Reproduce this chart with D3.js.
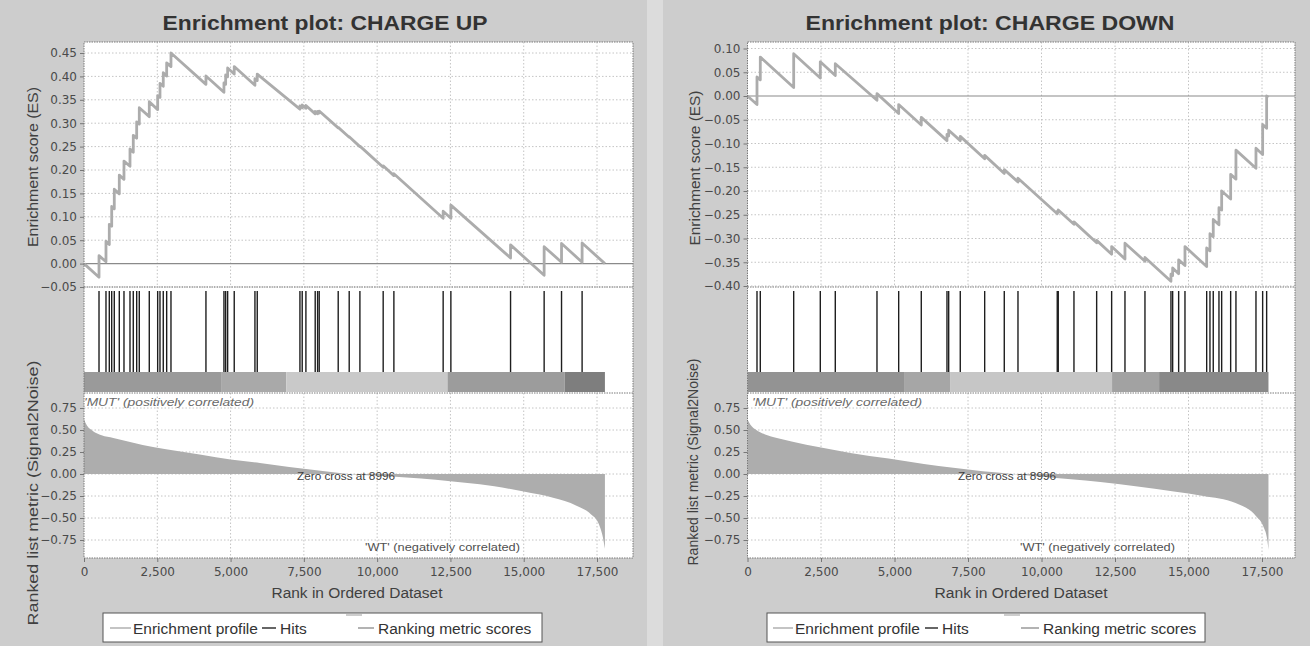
<!DOCTYPE html>
<html><head><meta charset="utf-8">
<script src="https://cdn.jsdelivr.net/npm/d3@7"></script>
<style>
html,body{margin:0;padding:0;background:#cdcdcd;}
svg{display:block;}
</style></head><body>
<svg id="c" width="1310" height="646"></svg>
<script>
// ---------------- DATA ----------------
const titles = ["Enrichment plot: CHARGE UP", "Enrichment plot: CHARGE DOWN"];
const xTicks = [0, 2500, 5000, 7500, 10000, 12500, 15000, 17500];
const esTicksUp = [-0.05, 0.00, 0.05, 0.10, 0.15, 0.20, 0.25, 0.30, 0.35, 0.40, 0.45];
const esTicksDown = [-0.40, -0.35, -0.30, -0.25, -0.20, -0.15, -0.10, -0.05, 0.00, 0.05, 0.10];
const metricTicks = [-0.75, -0.50, -0.25, 0.00, 0.25, 0.50, 0.75];
const datasetSize = [17770, 17720];
const zeroCross = 8996;

const hitsUp = [512, 750, 863, 945, 1033, 1204, 1364, 1569, 1681, 1797, 1886, 2227, 2513, 2592, 2704, 2820, 2967,
  4160, 4774, 4832, 4900, 5125, 5831, 5910, 7366, 7444, 7570, 7887, 7969, 8024, 8672, 9047, 9412,
  10206, 10571, 12252, 12515, 14551, 15697, 16290, 16992];

const esUp = [[0, 0], [512, -0.029], [512, 0.017], [750, 0.004], [750, 0.048], [863, 0.041], [863, 0.084],
  [945, 0.080], [945, 0.122], [1033, 0.117], [1033, 0.159], [1204, 0.149], [1204, 0.189], [1364, 0.180], [1364, 0.219],
  [1569, 0.208], [1569, 0.245], [1681, 0.238], [1681, 0.274], [1797, 0.268], [1797, 0.303], [1886, 0.298], [1886, 0.333],
  [2227, 0.314], [2227, 0.346], [2513, 0.329], [2513, 0.359], [2592, 0.355], [2592, 0.385], [2704, 0.379], [2704, 0.408],
  [2820, 0.401], [2820, 0.429], [2967, 0.421], [2967, 0.450], [4160, 0.383], [4160, 0.401], [4774, 0.366], [4774, 0.386],
  [4832, 0.383], [4832, 0.403], [4900, 0.399], [4900, 0.418], [5125, 0.405], [5125, 0.421], [5831, 0.381], [5831, 0.395],
  [5910, 0.391], [5910, 0.405], [7366, 0.330], [7366, 0.337], [7444, 0.333], [7444, 0.339], [7570, 0.332], [7570, 0.338],
  [7887, 0.320], [7887, 0.325], [7969, 0.320], [7969, 0.325], [8024, 0.322], [8024, 0.326], [8672, 0.290], [8672, 0.291],
  [9047, 0.270], [9047, 0.271], [9412, 0.250], [9412, 0.251], [10206, 0.206], [10206, 0.209], [10571, 0.188], [10571, 0.192],
  [12252, 0.097], [12252, 0.112], [12515, 0.097], [12515, 0.125], [14551, 0.012], [14551, 0.040], [15697, -0.025], [15697, 0.036],
  [16290, 0.003], [16290, 0.043], [16992, 0.003], [16992, 0.044], [17770, 0.0]];

const metricUp = [[0, 0.62], [100, 0.55], [300, 0.49], [600, 0.44], [1000, 0.41], [1500, 0.37], [2000, 0.33], [2800, 0.28],
  [4000, 0.22], [5000, 0.165], [6000, 0.125], [7000, 0.08], [8000, 0.04], [8996, 0], [10000, -0.02], [11000, -0.04],
  [12000, -0.065], [13000, -0.10], [14000, -0.14], [15000, -0.20], [16000, -0.27], [16800, -0.36], [17300, -0.46],
  [17550, -0.56], [17700, -0.72], [17770, -0.85]];

const hitsDown = [323, 435, 1571, 2476, 2986, 4404, 5142, 5911, 6785, 6843, 7237, 8067, 8734, 9200, 10536, 10570,
  11104, 11876, 12386, 12839, 13519, 14403, 14461, 14665, 14880, 15618, 15730, 15842, 16036, 16128, 16434, 16614,
  17295, 17522, 17658];

const esDown = [[0, 0], [323, -0.018], [323, 0.040], [435, 0.034], [435, 0.082], [1571, 0.018], [1571, 0.089],
  [2476, 0.038], [2476, 0.072], [2986, 0.043], [2986, 0.068], [4404, -0.009], [4404, 0.005], [5142, -0.037], [5142, -0.018],
  [5911, -0.061], [5911, -0.045], [6785, -0.094], [6785, -0.081], [6843, -0.084], [6843, -0.072], [7237, -0.094], [7237, -0.085],
  [8067, -0.132], [8067, -0.125], [8734, -0.163], [8734, -0.155], [9200, -0.181], [9200, -0.173], [10536, -0.248], [10536, -0.243],
  [10570, -0.245], [10570, -0.240], [11104, -0.270], [11104, -0.265], [11876, -0.309], [11876, -0.304], [12386, -0.333], [12386, -0.317],
  [12839, -0.343], [12839, -0.310], [13519, -0.348], [13519, -0.340], [14403, -0.390], [14403, -0.375], [14461, -0.378], [14461, -0.362],
  [14665, -0.374], [14665, -0.345], [14880, -0.357], [14880, -0.317], [15618, -0.359], [15618, -0.320], [15730, -0.326], [15730, -0.290],
  [15842, -0.296], [15842, -0.260], [16036, -0.271], [16036, -0.235], [16128, -0.240], [16128, -0.200], [16434, -0.217], [16434, -0.165],
  [16614, -0.175], [16614, -0.114], [17295, -0.152], [17295, -0.110], [17522, -0.123], [17522, -0.060], [17658, -0.068], [17658, 0.000],
  [17720, -0.003]];

const metricDown = [[0, 0.62], [100, 0.56], [300, 0.50], [600, 0.45], [1000, 0.41], [1500, 0.37], [2500, 0.30], [3500, 0.24],
  [4800, 0.175], [6000, 0.115], [7000, 0.07], [8000, 0.03], [8996, 0], [10000, -0.03], [11000, -0.06], [12000, -0.09],
  [13200, -0.14], [14500, -0.20], [15500, -0.25], [16600, -0.33], [17300, -0.48], [17550, -0.60], [17680, -0.75], [17720, -0.86]];

const colorBreaksUp = [0, 4700, 6900, 12400, 16400, 17770];
const colorBreaksDown = [0, 5350, 6890, 12400, 14000, 17720];

const legendLabels = ["Enrichment profile", "Hits", "Ranking metric scores"];
const posLabel = "'MUT' (positively correlated)";
const negLabel = "'WT' (negatively correlated)";

// ---------------- STYLE / LAYOUT ----------------
const shadesUp = ["#9a9a9a", "#a9a9a9", "#c9c9c9", "#9c9c9c", "#7e7e7e"];
const shadesDown = ["#939393", "#a6a6a6", "#c6c6c6", "#a2a2a2", "#898989"];
const FONT = "'Liberation Sans', Arial, sans-serif";
const TFONT = "'DejaVu Sans', Verdana, sans-serif";

const svg = d3.select("#c");
svg.append("rect").attr("width", 1310).attr("height", 646).attr("fill", "#cdcdcd");
svg.append("rect").attr("x", 647).attr("width", 16).attr("height", 646).attr("fill", "#dcdcdc");

const charts = [
  { title: titles[0], titleX: 325, titleLen: 325, x0: 84, x1: 633, x17500: 597,
    esTicks: esTicksUp, esBot: 287, esTop: 53, es: esUp, hits: hitsUp, metric: metricUp, N: datasetSize[0],
    breaks: colorBreaksUp, shades: shadesUp,
    esLabelX: 33, esLabelY: 167, esLabelLen: 160, rlLabelX: 33, rlLabelY: 493, rlLabelLen: 265,
    xTitleX: 357, xTitleLen: 171, zeroX: 297, posX: 84, negX: 365,
    leg: { x0: 103, x1: 542, s1: [110, 131], t1: 133, s2: [262, 276], t2: 280, s3: [346, 362], s4: [358, 374], t3: 378 } },
  { title: titles[1], titleX: 990, titleLen: 369, x0: 747.5, x1: 1295, x17500: 1262,
    esTicks: esTicksDown, esBot: 286, esTop: 48.5, es: esDown, hits: hitsDown, metric: metricDown, N: datasetSize[1],
    breaks: colorBreaksDown, shades: shadesDown,
    esLabelX: 695, esLabelY: 168, esLabelLen: 155, rlLabelX: 693, rlLabelY: 462, rlLabelLen: 207,
    xTitleX: 1021, xTitleLen: 173, zeroX: 958, posX: 752, negX: 1020,
    leg: { x0: 767, x1: 1205, s1: [773, 793], t1: 795, s2: [925, 938], t2: 942, s3: [1004, 1020], s4: [1021, 1039], t3: 1043 } }
];

const TOP = 42, ES_BOTTOM = 287, HIT_TOP = 291, HIT_BOTTOM = 372, BAR_BOTTOM = 392, M_TOP = 393, M_BOTTOM = 558;

charts.forEach(c => {
  const g = svg.append("g");
  const x = d3.scaleLinear().domain([0, 17500]).range([c.x0, c.x17500]);
  const yES = d3.scaleLinear().domain([c.esTicks[0], c.esTicks[c.esTicks.length - 1]]).range([c.esBot, c.esTop]);
  const yM = d3.scaleLinear().domain([-0.75, 0.75]).range([540, 408]);

  // title
  g.append("text").attr("x", c.titleX).attr("y", 29.5).attr("text-anchor", "middle")
    .attr("font-family", FONT).attr("font-weight", "bold").attr("font-size", 21).attr("fill", "#333")
    .attr("textLength", c.titleLen).attr("lengthAdjust", "spacingAndGlyphs").text(c.title);

  // white plot background
  g.append("rect").attr("x", c.x0).attr("y", TOP).attr("width", c.x1 - c.x0).attr("height", M_BOTTOM - TOP).attr("fill", "#fff");

  const grid = g.append("g").attr("stroke", "#c4c4c4").attr("stroke-width", 1).attr("stroke-dasharray", "1.5,2");
  xTicks.filter(t => t > 0).forEach(t => {
    grid.append("line").attr("x1", x(t)).attr("x2", x(t)).attr("y1", TOP).attr("y2", ES_BOTTOM);
    grid.append("line").attr("x1", x(t)).attr("x2", x(t)).attr("y1", M_TOP).attr("y2", M_BOTTOM);
  });
  c.esTicks.forEach(t => {
    if (Math.abs(t) < 1e-9) return;
    grid.append("line").attr("x1", c.x0).attr("x2", c.x1).attr("y1", yES(t)).attr("y2", yES(t));
  });
  metricTicks.forEach(t => {
    grid.append("line").attr("x1", c.x0).attr("x2", c.x1).attr("y1", yM(t)).attr("y2", yM(t));
  });

  // ES zero line
  g.append("line").attr("x1", c.x0).attr("x2", c.x1).attr("y1", yES(0)).attr("y2", yES(0))
    .attr("stroke", "#8a8a8a").attr("stroke-width", 1.2);

  // metric area
  const area = d3.area().x(d => x(d[0])).y0(yM(0)).y1(d => yM(d[1])).curve(d3.curveMonotoneX);
  g.append("path").datum(c.metric).attr("d", area).attr("fill", "#adadad");

  // ES line
  const line = d3.line().x(d => x(d[0])).y(d => yES(d[1]));
  g.append("path").datum(c.es).attr("d", line).attr("fill", "none")
    .attr("stroke", "#acacac").attr("stroke-width", 2.8).attr("stroke-linejoin", "round");

  // hits
  g.append("g").selectAll("line").data(c.hits).join("line")
    .attr("x1", d => x(d)).attr("x2", d => x(d)).attr("y1", HIT_TOP).attr("y2", HIT_BOTTOM)
    .attr("stroke", "#1e1e1e").attr("stroke-width", 1.4);

  // color bar
  const segs = d3.pairs(c.breaks);
  g.append("g").selectAll("rect").data(segs).join("rect")
    .attr("x", d => x(d[0])).attr("width", d => x(d[1]) - x(d[0]))
    .attr("y", HIT_BOTTOM).attr("height", BAR_BOTTOM - HIT_BOTTOM)
    .attr("fill", (d, i) => c.shades[i]);

  // panel borders (dotted)
  const bd = g.append("g").attr("stroke", "#7a7a7a").attr("stroke-width", 1).attr("stroke-dasharray", "1.5,1").attr("fill", "none");
  bd.append("rect").attr("x", c.x0).attr("y", TOP).attr("width", c.x1 - c.x0).attr("height", M_BOTTOM - TOP);
  bd.append("line").attr("x1", c.x0).attr("x2", c.x1).attr("y1", ES_BOTTOM).attr("y2", ES_BOTTOM);
  bd.append("line").attr("x1", c.x0).attr("x2", c.x1).attr("y1", M_TOP).attr("y2", M_TOP);

  // axes
  const esAxis = g.append("g").attr("transform", `translate(${c.x0},0)`)
    .call(d3.axisLeft(yES).tickValues(c.esTicks).tickFormat(d3.format(".2f")).tickSize(4).tickPadding(3));
  const mAxis = g.append("g").attr("transform", `translate(${c.x0},0)`)
    .call(d3.axisLeft(yM).tickValues(metricTicks).tickFormat(d3.format(".2f")).tickSize(4).tickPadding(3));
  const xAxis = g.append("g").attr("transform", `translate(0,${M_BOTTOM})`)
    .call(d3.axisBottom(x).tickValues(xTicks).tickFormat(d3.format(",")).tickSize(4).tickPadding(5));
  [esAxis, mAxis, xAxis].forEach(a => {
    a.select(".domain").remove();
    a.selectAll("line").attr("stroke", "#777");
    a.selectAll("text").attr("font-family", TFONT).attr("font-size", 12).attr("fill", "#4a4a4a");
  });

  // axis titles
  g.append("text").attr("transform", `translate(${c.esLabelX + 5},${c.esLabelY}) rotate(-90)`)
    .attr("text-anchor", "middle").attr("font-family", FONT).attr("font-size", 14).attr("fill", "#404040")
    .attr("textLength", c.esLabelLen).attr("lengthAdjust", "spacingAndGlyphs").text("Enrichment score (ES)");
  g.append("text").attr("transform", `translate(${c.rlLabelX + 5},${c.rlLabelY}) rotate(-90)`)
    .attr("text-anchor", "middle").attr("font-family", FONT).attr("font-size", 14).attr("fill", "#404040")
    .attr("textLength", c.rlLabelLen).attr("lengthAdjust", "spacingAndGlyphs").text("Ranked list metric (Signal2Noise)");
  g.append("text").attr("x", c.xTitleX).attr("y", 598).attr("text-anchor", "middle")
    .attr("font-family", FONT).attr("font-size", 14).attr("fill", "#404040")
    .attr("textLength", c.xTitleLen).attr("lengthAdjust", "spacingAndGlyphs").text("Rank in Ordered Dataset");

  // annotations
  g.append("text").attr("x", c.posX).attr("y", 406).attr("font-family", FONT).attr("font-style", "italic")
    .attr("font-size", 11).attr("fill", "#6a6a6a").attr("textLength", 170).attr("lengthAdjust", "spacingAndGlyphs").text(posLabel);
  g.append("text").attr("x", c.negX).attr("y", 551).attr("font-family", FONT)
    .attr("font-size", 11).attr("fill", "#505050").attr("textLength", 155).attr("lengthAdjust", "spacingAndGlyphs").text(negLabel);
  g.append("text").attr("x", c.zeroX).attr("y", 480).attr("font-family", FONT)
    .attr("font-size", 10).attr("fill", "#404040").attr("textLength", 98).attr("lengthAdjust", "spacingAndGlyphs")
    .text("Zero cross at " + zeroCross);

  // legend
  const L = c.leg, lg = g.append("g");
  lg.append("rect").attr("x", L.x0).attr("y", 613).attr("width", L.x1 - L.x0).attr("height", 29)
    .attr("fill", "#fff").attr("stroke", "#555").attr("stroke-width", 1);
  lg.append("line").attr("x1", L.s1[0]).attr("x2", L.s1[1]).attr("y1", 628).attr("y2", 628).attr("stroke", "#b0b0b0").attr("stroke-width", 1.5);
  lg.append("text").attr("x", L.t1).attr("y", 633.5).attr("font-family", FONT).attr("font-size", 15.5).attr("fill", "#333").text(legendLabels[0]);
  lg.append("line").attr("x1", L.s2[0]).attr("x2", L.s2[1]).attr("y1", 628).attr("y2", 628).attr("stroke", "#333").attr("stroke-width", 1.5);
  lg.append("text").attr("x", L.t2).attr("y", 633.5).attr("font-family", FONT).attr("font-size", 15.5).attr("fill", "#333").text(legendLabels[1]);
  lg.append("line").attr("x1", L.s3[0]).attr("x2", L.s3[1]).attr("y1", 615).attr("y2", 615).attr("stroke", "#bdbdbd").attr("stroke-width", 1.5);
  lg.append("line").attr("x1", L.s4[0]).attr("x2", L.s4[1]).attr("y1", 628).attr("y2", 628).attr("stroke", "#9a9a9a").attr("stroke-width", 1.5);
  lg.append("text").attr("x", L.t3).attr("y", 633.5).attr("font-family", FONT).attr("font-size", 15.5).attr("fill", "#333").text(legendLabels[2]);
});
</script>
</body></html>
